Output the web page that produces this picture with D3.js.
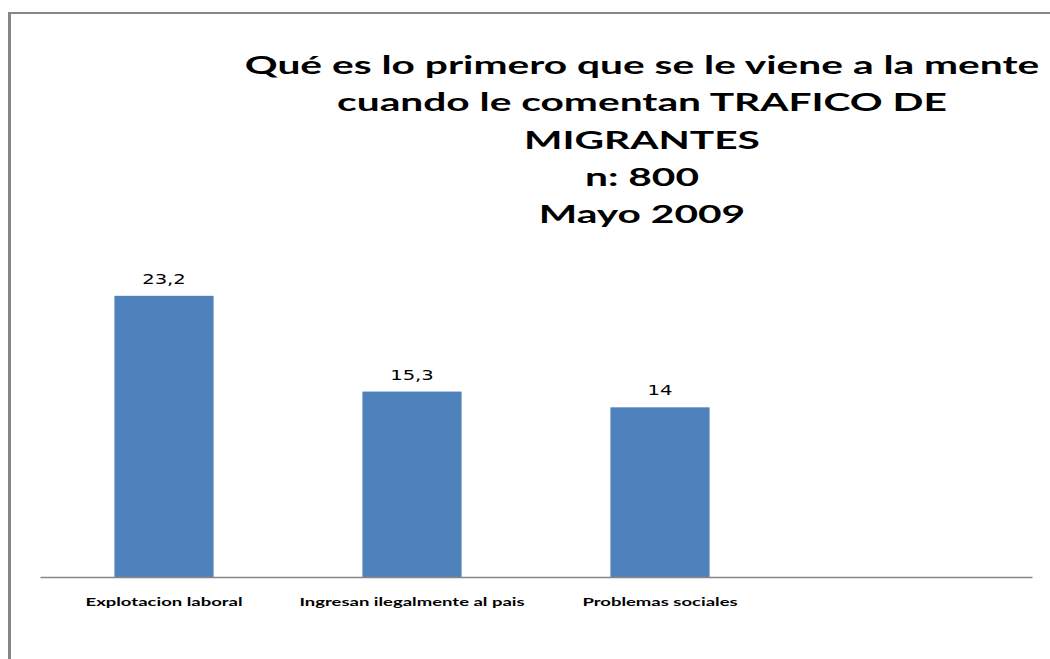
<!DOCTYPE html>
<html>
<head>
<meta charset="utf-8">
<script src="https://cdn.jsdelivr.net/npm/d3@7/dist/d3.min.js"></script>
<style>
  html, body { margin: 0; padding: 0; background: #fff; }
  svg { display: block; }
</style>
</head>
<body>
<script>
// data
const categories = ["Explotacion laboral", "Ingresan ilegalmente al pais", "Problemas sociales", ""];
const values = [23.2, 15.3, 14];
const titleLines = [
  "Qué es lo primero que se le viene a la mente",
  "cuando le comentan TRAFICO DE",
  "MIGRANTES",
  "n: 800",
  "Mayo 2009"
];

const W = 1050, H = 659;
const svg = d3.select("body").append("svg")
  .attr("width", W)
  .attr("height", H);

svg.append("rect").attr("width", W).attr("height", H).attr("fill", "#fff");

// the original picture is stretched sideways, so every text gets widened
function stretch(sel, k) {
  sel.each(function () {
    const w = this.getComputedTextLength();
    if (w > 0) {
      d3.select(this)
        .attr("textLength", w * k)
        .attr("lengthAdjust", "spacingAndGlyphs");
    }
  });
}

// frame (only left and top edges are visible)
svg.append("line")
  .attr("x1", 9.5).attr("y1", 12).attr("x2", 9.5).attr("y2", H)
  .attr("stroke", "#868686").attr("stroke-width", 3);
svg.append("line")
  .attr("x1", 8).attr("y1", 13).attr("x2", W).attr("y2", 13)
  .attr("stroke", "#868686").attr("stroke-width", 2);

// title
const title = svg.append("g")
  .selectAll("text")
  .data(titleLines)
  .join("text")
  .attr("x", 642)
  .attr("y", (d, i) => 74 + i * 37.3)
  .attr("text-anchor", "middle")
  .attr("font-family", "Lato, 'Open Sans', sans-serif")
  .attr("font-weight", "bold")
  .attr("font-size", 24.5)
  .attr("fill", "#000")
  .text(d => d);
stretch(title, 1.66);

// scales
const x = d3.scaleBand()
  .domain(categories)
  .range([40, 1032])
  .paddingInner(0.6)
  .paddingOuter(0.3);

const y = d3.scaleLinear()
  .domain([0, 25])
  .range([577, 274]);

// bars
svg.append("g")
  .selectAll("rect")
  .data(values)
  .join("rect")
  .attr("x", (d, i) => x(categories[i]))
  .attr("y", d => y(d))
  .attr("width", x.bandwidth())
  .attr("height", d => y(0) - y(d))
  .attr("fill", "#4F81BD");

// value labels
const vals = svg.append("g")
  .selectAll("text")
  .data(values)
  .join("text")
  .attr("x", (d, i) => x(categories[i]) + x.bandwidth() / 2)
  .attr("y", d => y(d) - 12)
  .attr("text-anchor", "middle")
  .attr("font-family", "'DejaVu Sans', Verdana, sans-serif")
  .attr("font-size", 13.5)
  .attr("fill", "#000")
  .text(d => String(d).replace(".", ","));
stretch(vals, 1.45);

// category axis
const axis = svg.append("g")
  .attr("transform", "translate(0,577)")
  .call(d3.axisBottom(x).tickSize(0).tickSizeOuter(0).tickPadding(20));

axis.select(".domain")
  .attr("stroke", "#868686")
  .attr("stroke-width", 1.5);

const catLabels = axis.selectAll(".tick text")
  .attr("dy", 0)
  .attr("y", 29)
  .attr("font-family", "Lato, 'Open Sans', sans-serif")
  .attr("font-weight", "bold")
  .attr("font-size", 12)
  .attr("fill", "#000");
stretch(catLabels, 1.54);
</script>
</body>
</html>
